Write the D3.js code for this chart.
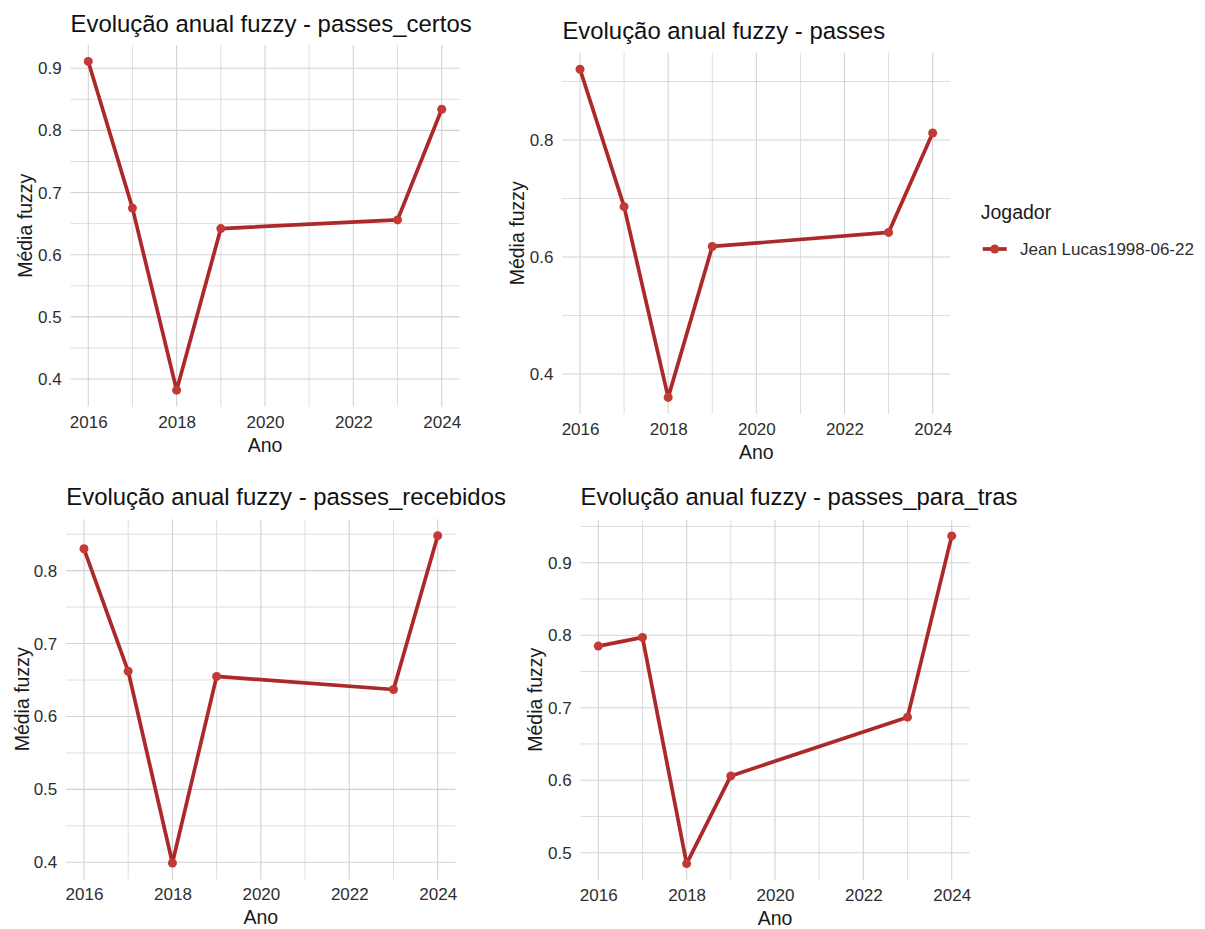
<!DOCTYPE html>
<html>
<head>
<meta charset="utf-8">
<script src="https://cdn.jsdelivr.net/npm/d3@7"></script>
<style>
  html, body { margin: 0; padding: 0; background: #ffffff; }
  svg { display: block; font-family: "Liberation Sans", Arial, sans-serif; }
</style>
</head>
<body>
<svg id="chart" width="1205" height="929"></svg>
<script>
// Years observed for the player
const years = [2016, 2017, 2018, 2019, 2023, 2024];

// Fuzzy yearly means per passing metric
const passesCertos    = [0.911, 0.675, 0.382, 0.642, 0.656, 0.834];
const passes          = [0.921, 0.686, 0.360, 0.618, 0.642, 0.812];
const passesRecebidos = [0.830, 0.662, 0.399, 0.655, 0.637, 0.848];
const passesParaTras  = [0.785, 0.797, 0.485, 0.606, 0.687, 0.937];

// Axis breaks
const xTicks = [2016, 2018, 2020, 2022, 2024];
const yTicksCertos    = [0.4, 0.5, 0.6, 0.7, 0.8, 0.9];
const yTicksPasses    = [0.4, 0.6, 0.8];
const yTicksRecebidos = [0.4, 0.5, 0.6, 0.7, 0.8];
const yTicksParaTras  = [0.5, 0.6, 0.7, 0.8, 0.9];

const playerName = "Jean Lucas1998-06-22";
const legendTitle = "Jogador";

const lineColor = "#ad2828";
const pointColor = "#c23a36";

// Panel layout (plot area boxes)
const panels = [
  { title: "Evolução anual fuzzy - passes_certos",    values: passesCertos,    yTicks: yTicksCertos,
    left: 70.6, top: 45.0, width: 388.8, height: 361.6, yTitleX: 25, titleY: 32 },
  { title: "Evolução anual fuzzy - passes",           values: passes,          yTicks: yTicksPasses,
    left: 562.4, top: 52.8, width: 387.9, height: 361.0, yTitleX: 516.7, titleY: 39 },
  { title: "Evolução anual fuzzy - passes_recebidos", values: passesRecebidos, yTicks: yTicksRecebidos,
    left: 66.3, top: 519.3, width: 389.1, height: 360.1, yTitleX: 21.7, titleY: 505 },
  { title: "Evolução anual fuzzy - passes_para_tras",  values: passesParaTras,  yTicks: yTicksParaTras,
    left: 580.6, top: 519.5, width: 388.8, height: 360.5, yTitleX: 535, titleY: 505 }
];

const svg = d3.select("#chart");

// ggplot-style 5% expansion of a continuous range
function expand(ext) {
  const pad = (ext[1] - ext[0]) * 0.05;
  return [ext[0] - pad, ext[1] + pad];
}

// Minor breaks halfway between majors (plus one step outside, kept if inside the domain)
function minorBreaks(major, domain) {
  const step = major[1] - major[0];
  const out = [];
  for (let i = -1; i < major.length; i++) {
    const v = major[0] + (i + 0.5) * step;
    if (v >= domain[0] && v <= domain[1]) out.push(v);
  }
  return out;
}

panels.forEach(p => {
  const xDom = expand(d3.extent(years));
  const yDom = expand(d3.extent(p.values));
  const x = d3.scaleLinear().domain(xDom).range([p.left, p.left + p.width]);
  const y = d3.scaleLinear().domain(yDom).range([p.top + p.height, p.top]);

  const g = svg.append("g");

  // minor grid
  const xMinor = minorBreaks(xTicks, xDom);
  const yMinor = minorBreaks(p.yTicks, yDom);
  g.selectAll(null).data(xMinor).join("line")
    .attr("x1", d => x(d)).attr("x2", d => x(d))
    .attr("y1", p.top).attr("y2", p.top + p.height)
    .attr("stroke", "#dedede").attr("stroke-width", 1);
  g.selectAll(null).data(yMinor).join("line")
    .attr("x1", p.left).attr("x2", p.left + p.width)
    .attr("y1", d => y(d)).attr("y2", d => y(d))
    .attr("stroke", "#dedede").attr("stroke-width", 1);

  // major grid
  g.selectAll(null).data(xTicks).join("line")
    .attr("x1", d => x(d)).attr("x2", d => x(d))
    .attr("y1", p.top).attr("y2", p.top + p.height)
    .attr("stroke", "#d2d2d2").attr("stroke-width", 1.1);
  g.selectAll(null).data(p.yTicks).join("line")
    .attr("x1", p.left).attr("x2", p.left + p.width)
    .attr("y1", d => y(d)).attr("y2", d => y(d))
    .attr("stroke", "#d2d2d2").attr("stroke-width", 1.1);

  // axes (labels only)
  const xAxis = g.append("g")
    .attr("transform", `translate(0,${p.top + p.height})`)
    .call(d3.axisBottom(x).tickValues(xTicks).tickFormat(d3.format("d")).tickSize(0).tickPadding(9));
  xAxis.select(".domain").remove();
  xAxis.selectAll("text").attr("font-size", 17).attr("fill", "#2e2e2e")
    .attr("font-family", "Liberation Sans, Arial, sans-serif");

  const yAxis = g.append("g")
    .attr("transform", `translate(${p.left},0)`)
    .call(d3.axisLeft(y).tickValues(p.yTicks).tickFormat(d3.format(".1f")).tickSize(0).tickPadding(9));
  yAxis.select(".domain").remove();
  yAxis.selectAll("text").attr("font-size", 17).attr("fill", "#2e2e2e")
    .attr("font-family", "Liberation Sans, Arial, sans-serif");

  // axis titles
  g.append("text")
    .attr("x", p.left + p.width / 2).attr("y", p.top + p.height + 45)
    .attr("text-anchor", "middle").attr("font-size", 19.5).attr("fill", "#1a1a1a")
    .text("Ano");
  g.append("text")
    .attr("transform", `translate(${p.yTitleX + 7},${p.top + p.height / 2}) rotate(-90)`)
    .attr("text-anchor", "middle").attr("font-size", 19.5).attr("fill", "#1a1a1a")
    .text("Média fuzzy");

  // panel title
  g.append("text")
    .attr("x", p.left).attr("y", p.titleY)
    .attr("font-size", 23.9).attr("fill", "#111")
    .text(p.title);

  // series
  const pts = years.map((yr, i) => ({ yr, v: p.values[i] }));
  g.append("path")
    .datum(pts)
    .attr("fill", "none")
    .attr("stroke", lineColor)
    .attr("stroke-width", 3.7)
    .attr("stroke-linejoin", "round")
    .attr("d", d3.line().x(d => x(d.yr)).y(d => y(d.v)));
  g.selectAll(null).data(pts).join("circle")
    .attr("cx", d => x(d.yr)).attr("cy", d => y(d.v))
    .attr("r", 4.5).attr("fill", pointColor);
});

// legend
const lg = svg.append("g");
lg.append("text").attr("x", 980.7).attr("y", 219)
  .attr("font-size", 19.5).attr("fill", "#1a1a1a").text(legendTitle);
lg.append("line").attr("x1", 982.7).attr("x2", 1006.7).attr("y1", 249).attr("y2", 249)
  .attr("stroke", lineColor).attr("stroke-width", 3.7);
lg.append("circle").attr("cx", 994.7).attr("cy", 249).attr("r", 4.5).attr("fill", pointColor);
lg.append("text").attr("x", 1020).attr("y", 255)
  .attr("font-size", 17).attr("fill", "#2e2e2e").text(playerName);
</script>
</body>
</html>
